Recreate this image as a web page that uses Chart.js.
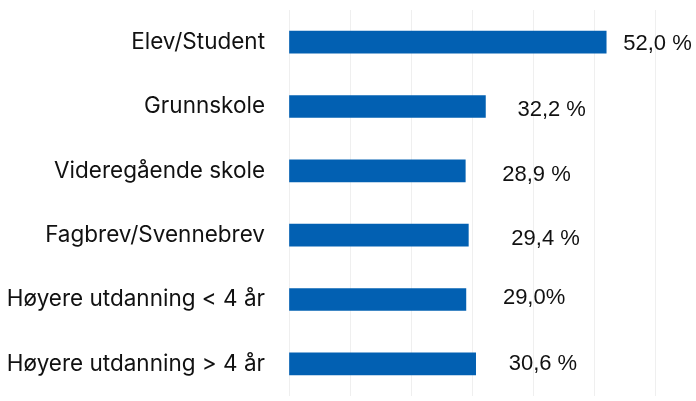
<!DOCTYPE html>
<html>
<head>
<meta charset="utf-8">
<script src="https://cdn.jsdelivr.net/npm/chart.js@4/dist/chart.umd.min.js"></script>
<style>
  html, body { margin: 0; padding: 0; background: #fff; }
  #wrap { width: 696px; height: 401px; }
</style>
</head>
<body>
<div id="wrap"><canvas id="myChart" width="696" height="401"></canvas></div>
<script>
// categories and values
const categories = [
    'Elev/Student',
    'Grunnskole',
    'Videregående skole',
    'Fagbrev/Svennebrev',
    'Høyere utdanning < 4 år',
    'Høyere utdanning > 4 år'
];
const shares = [52.0, 32.2, 28.9, 29.4, 29.0, 30.6];
const shareLabels = ['52,0 %', '32,2 %', '28,9 %', '29,4 %', '29,0%', '30,6 %'];

// labels sit a little off the bar ends in the original, nudge them the same way
const labelGap = [17, 32, 37, 43, 37, 33];
const labelDrop = [2, 3, 4, 4, -2, 0];

// draws the value text next to each bar
const valueLabels = {
    id: 'valueLabels',
    afterDatasetsDraw(chart) {
        const ctx = chart.ctx;
        const meta = chart.getDatasetMeta(0);
        ctx.save();
        ctx.font = '22px "Liberation Sans", Arial, sans-serif';
        ctx.fillStyle = '#111';
        ctx.textBaseline = 'middle';
        ctx.textAlign = 'left';
        meta.data.forEach((bar, i) => {
            ctx.fillText(shareLabels[i], bar.x + labelGap[i], bar.y + labelDrop[i]);
        });
        ctx.restore();
    }
};

const ctx = document.getElementById('myChart').getContext('2d');
new Chart(ctx, {
    type: 'bar',
    data: {
        labels: categories,
        datasets: [{
            data: shares,
            backgroundColor: '#0260b2',
            barThickness: 22,
            borderWidth: 0
        }]
    },
    options: {
        indexAxis: 'y',
        responsive: false,
        animation: false,
        layout: { padding: { top: 10, bottom: 5, right: 41 } },
        plugins: {
            legend: { display: false },
            tooltip: { enabled: false }
        },
        scales: {
            x: {
                min: 0,
                max: 60,
                ticks: { display: false, stepSize: 10 },
                grid: { color: '#efefef', drawTicks: false },
                border: { display: false },
                afterFit(scale) { scale.height = 0; }
            },
            y: {
                ticks: {
                    color: '#111',
                    padding: 24,
                    font: { family: 'Inter, "Noto Sans", sans-serif', size: 22.5 }
                },
                grid: { display: false, drawTicks: false },
                border: { display: false },
                afterFit(scale) {
                    scale.width = 289;
                    scale.paddingTop = 0;
                    scale.paddingBottom = 0;
                }
            }
        }
    },
    plugins: [valueLabels]
});
</script>
</body>
</html>
